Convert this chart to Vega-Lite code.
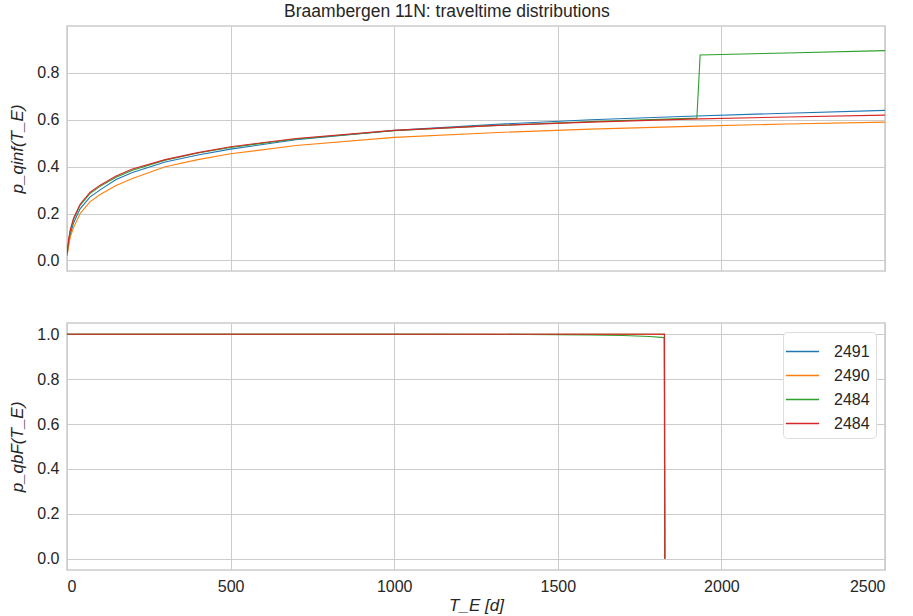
{
  "$schema": "https://vega.github.io/schema/vega-lite/v6.json",
  "padding": {"left": 8, "top": 2, "right": 27, "bottom": 4},
  "background": "white",
  "config": {
    "font": "Liberation Sans",
    "view": {"stroke": "#cccccc", "strokeWidth": 1.5},
    "axis": {
      "gridColor": "#cccccc",
      "gridWidth": 1,
      "domain": false,
      "ticks": false,
      "labelFont": "Liberation Sans",
      "labelFontSize": 16,
      "labelColor": "#262626",
      "labelPadding": 8,
      "titleFont": "Liberation Sans",
      "titleFontSize": 17,
      "titleFontWeight": "normal",
      "titleColor": "#262626"
    },
    "legend": {
      "labelFont": "Liberation Sans",
      "labelFontSize": 16,
      "labelColor": "#262626"
    },
    "title": {"font": "Liberation Sans", "fontSize": 17.5, "fontWeight": "normal", "color": "#262626"},
    "concat": {"spacing": 50}
  },
  "datasets": {
    "top": [
      {"T": 0, "p": 0.02, "s": "2491"}, {"T": 5, "p": 0.07, "s": "2491"}, {"T": 10, "p": 0.11, "s": "2491"}, {"T": 20, "p": 0.16, "s": "2491"}, {"T": 40, "p": 0.22, "s": "2491"}, {"T": 70, "p": 0.27, "s": "2491"}, {"T": 100, "p": 0.30, "s": "2491"}, {"T": 150, "p": 0.345, "s": "2491"}, {"T": 200, "p": 0.375, "s": "2491"}, {"T": 300, "p": 0.42, "s": "2491"}, {"T": 400, "p": 0.45, "s": "2491"}, {"T": 500, "p": 0.475, "s": "2491"}, {"T": 700, "p": 0.515, "s": "2491"}, {"T": 1000, "p": 0.555, "s": "2491"}, {"T": 1300, "p": 0.58, "s": "2491"}, {"T": 1600, "p": 0.60, "s": "2491"}, {"T": 1900, "p": 0.615, "s": "2491"}, {"T": 2200, "p": 0.628, "s": "2491"}, {"T": 2500, "p": 0.64, "s": "2491"},
      {"T": 0, "p": 0.02, "s": "2490"}, {"T": 5, "p": 0.06, "s": "2490"}, {"T": 10, "p": 0.10, "s": "2490"}, {"T": 20, "p": 0.14, "s": "2490"}, {"T": 40, "p": 0.20, "s": "2490"}, {"T": 70, "p": 0.25, "s": "2490"}, {"T": 100, "p": 0.28, "s": "2490"}, {"T": 150, "p": 0.32, "s": "2490"}, {"T": 200, "p": 0.35, "s": "2490"}, {"T": 300, "p": 0.40, "s": "2490"}, {"T": 400, "p": 0.43, "s": "2490"}, {"T": 500, "p": 0.455, "s": "2490"}, {"T": 700, "p": 0.49, "s": "2490"}, {"T": 1000, "p": 0.525, "s": "2490"}, {"T": 1300, "p": 0.545, "s": "2490"}, {"T": 1600, "p": 0.56, "s": "2490"}, {"T": 1900, "p": 0.572, "s": "2490"}, {"T": 2200, "p": 0.582, "s": "2490"}, {"T": 2500, "p": 0.59, "s": "2490"},
      {"T": 0, "p": 0.03, "s": "2484"}, {"T": 5, "p": 0.085, "s": "2484"}, {"T": 10, "p": 0.125, "s": "2484"}, {"T": 20, "p": 0.175, "s": "2484"}, {"T": 40, "p": 0.235, "s": "2484"}, {"T": 70, "p": 0.285, "s": "2484"}, {"T": 100, "p": 0.315, "s": "2484"}, {"T": 150, "p": 0.355, "s": "2484"}, {"T": 200, "p": 0.385, "s": "2484"}, {"T": 300, "p": 0.428, "s": "2484"}, {"T": 400, "p": 0.458, "s": "2484"}, {"T": 500, "p": 0.482, "s": "2484"}, {"T": 700, "p": 0.518, "s": "2484"}, {"T": 1000, "p": 0.553, "s": "2484"}, {"T": 1300, "p": 0.575, "s": "2484"}, {"T": 1600, "p": 0.592, "s": "2484"}, {"T": 1925, "p": 0.607, "s": "2484"}, {"T": 1935, "p": 0.876, "s": "2484"}, {"T": 2200, "p": 0.885, "s": "2484"}, {"T": 2500, "p": 0.895, "s": "2484"},
      {"T": 0, "p": 0.03, "s": "2484 "}, {"T": 5, "p": 0.09, "s": "2484 "}, {"T": 10, "p": 0.13, "s": "2484 "}, {"T": 20, "p": 0.18, "s": "2484 "}, {"T": 40, "p": 0.24, "s": "2484 "}, {"T": 70, "p": 0.29, "s": "2484 "}, {"T": 100, "p": 0.32, "s": "2484 "}, {"T": 150, "p": 0.36, "s": "2484 "}, {"T": 200, "p": 0.39, "s": "2484 "}, {"T": 300, "p": 0.43, "s": "2484 "}, {"T": 400, "p": 0.46, "s": "2484 "}, {"T": 500, "p": 0.485, "s": "2484 "}, {"T": 700, "p": 0.52, "s": "2484 "}, {"T": 1000, "p": 0.555, "s": "2484 "}, {"T": 1300, "p": 0.575, "s": "2484 "}, {"T": 1600, "p": 0.59, "s": "2484 "}, {"T": 1900, "p": 0.603, "s": "2484 "}, {"T": 2200, "p": 0.612, "s": "2484 "}, {"T": 2500, "p": 0.62, "s": "2484 "}
    ],
    "bottom": [
      {"T": 0, "p": 1.0, "s": "2491"}, {"T": 1000, "p": 1.0, "s": "2491"}, {"T": 1826, "p": 1.0, "s": "2491"}, {"T": 1827, "p": 0.0, "s": "2491"},
      {"T": 0, "p": 1.0, "s": "2490"}, {"T": 1000, "p": 1.0, "s": "2490"}, {"T": 1826, "p": 1.0, "s": "2490"}, {"T": 1827, "p": 0.0, "s": "2490"},
      {"T": 0, "p": 1.0, "s": "2484"}, {"T": 1000, "p": 1.0, "s": "2484"}, {"T": 1400, "p": 0.999, "s": "2484"}, {"T": 1600, "p": 0.997, "s": "2484"}, {"T": 1700, "p": 0.994, "s": "2484"}, {"T": 1780, "p": 0.99, "s": "2484"}, {"T": 1825, "p": 0.985, "s": "2484"}, {"T": 1827, "p": 0.0, "s": "2484"},
      {"T": 0, "p": 1.0, "s": "2484 "}, {"T": 1000, "p": 1.0, "s": "2484 "}, {"T": 1826, "p": 1.0, "s": "2484 "}, {"T": 1827, "p": 0.0, "s": "2484 "}
    ]
  },
  "title": {"text": "Braambergen 11N: traveltime distributions", "anchor": "middle", "offset": 5},
  "resolve": {"scale": {"color": "independent"}},
  "vconcat": [
    {
      "width": 818,
      "height": 245,
      "data": {"name": "top"},
      "mark": {"type": "line", "strokeWidth": 1.1, "clip": true},
      "encoding": {
        "x": {"field": "T", "type": "quantitative", "scale": {"domain": [0, 2500], "nice": false},
              "axis": {"labels": false, "title": null, "values": [0, 500, 1000, 1500, 2000, 2500]}},
        "y": {"field": "p", "type": "quantitative", "scale": {"domain": [-0.045, 1.0], "nice": false, "zero": false},
              "axis": {"values": [0, 0.2, 0.4, 0.6, 0.8], "format": ".1f", "title": "p_qinf(T_E)", "titleFontStyle": "italic", "titlePadding": 10}},
        "color": {"field": "s", "type": "nominal",
                  "scale": {"domain": ["2491", "2490", "2484", "2484 "], "range": ["#1f77b4", "#ff7f0e", "#2ca02c", "#d62728"]},
                  "legend": null}
      }
    },
    {
      "width": 818,
      "height": 247,
      "data": {"name": "bottom"},
      "mark": {"type": "line", "strokeWidth": 1.1, "clip": true},
      "encoding": {
        "x": {"field": "T", "type": "quantitative", "scale": {"domain": [0, 2500], "nice": false},
              "axis": {"values": [0, 500, 1000, 1500, 2000, 2500], "format": "d", "title": "T_E [d]", "titleFontStyle": "italic", "titlePadding": 3}},
        "y": {"field": "p", "type": "quantitative", "scale": {"domain": [-0.05, 1.05], "nice": false, "zero": false},
              "axis": {"values": [0, 0.2, 0.4, 0.6, 0.8, 1.0], "format": ".1f", "title": "p_qbF(T_E)", "titleFontStyle": "italic", "titlePadding": 10}},
        "color": {"field": "s", "type": "nominal",
                  "scale": {"domain": ["2491", "2490", "2484", "2484 "], "range": ["#1f77b4", "#ff7f0e", "#2ca02c", "#d62728"]},
                  "legend": {"title": null, "orient": "top-right", "offset": 9, "symbolType": "M-1.3,0H1.3", "symbolSize": 650, "symbolStrokeWidth": 1.5,
                             "fillColor": "white", "strokeColor": "#dddddd", "padding": 6, "cornerRadius": 4, "rowPadding": 2, "labelOffset": 18}}
      }
    }
  ]
}
